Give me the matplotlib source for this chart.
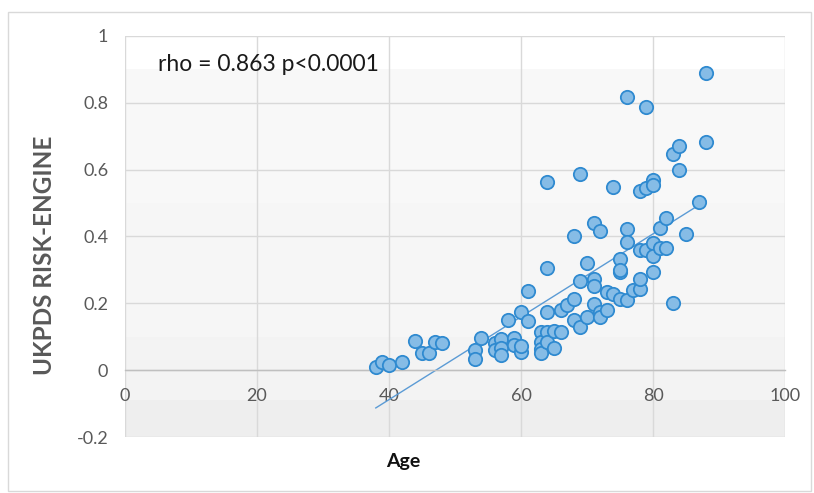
import matplotlib
matplotlib.use("Agg")
import matplotlib.pyplot as plt
from matplotlib.patches import Rectangle
import numpy as np

ages = [38, 39, 40, 42, 44, 45, 46, 47, 48, 53, 53, 54, 56, 56, 57, 57, 57, 58, 59, 59,
        60, 60, 60, 61, 61, 63, 63, 63, 63, 64, 64, 64, 64, 64, 65, 65, 66, 66, 67, 68,
        68, 68, 69, 69, 69, 70, 70, 71, 71, 71, 71, 72, 72, 72, 73, 73, 74, 74, 75, 75,
        75, 75, 76, 76, 76, 76, 77, 78, 78, 78, 78, 79, 79, 79, 80, 80, 80, 80, 80, 81,
        81, 82, 82, 83, 83, 84, 84, 85, 87, 88, 88]
risk = [0.010, 0.023, 0.015, 0.023, 0.087, 0.050, 0.050, 0.085, 0.080, 0.060, 0.032, 0.096,
        0.080, 0.060, 0.093, 0.065, 0.045, 0.151, 0.095, 0.075, 0.174, 0.055, 0.072, 0.237,
        0.147, 0.114, 0.085, 0.062, 0.050, 0.305, 0.174, 0.114, 0.085, 0.564, 0.116, 0.067,
        0.180, 0.114, 0.196, 0.214, 0.149, 0.401, 0.268, 0.129, 0.587, 0.159, 0.321, 0.274,
        0.251, 0.199, 0.441, 0.174, 0.159, 0.416, 0.181, 0.234, 0.229, 0.547, 0.293, 0.214,
        0.333, 0.300, 0.211, 0.818, 0.423, 0.383, 0.239, 0.244, 0.274, 0.537, 0.360, 0.544,
        0.360, 0.788, 0.293, 0.569, 0.555, 0.381, 0.341, 0.425, 0.366, 0.455, 0.366, 0.201,
        0.647, 0.672, 0.599, 0.408, 0.504, 0.684, 0.890]

trend_x = [38, 88]
trend_y = [-0.113, 0.507]

x_ticks = [0, 20, 40, 60, 80, 100]
y_ticks = [-0.2, 0, 0.2, 0.4, 0.6, 0.8, 1]
y_tick_labels = ["-0.2", "0", "0.2", "0.4", "0.6", "0.8", "1"]
annotation = "rho = 0.863 p<0.0001"

plt.rcParams['font.family'] = ['Lato', 'DejaVu Sans']

fig = plt.figure(figsize=(8.14, 4.93), dpi=100)
fig.patch.set_facecolor("white")
fig.patches.append(Rectangle((8 / 814, 1 - 491 / 493), 803 / 814, 479 / 493,
                             transform=fig.transFigure, fill=False,
                             edgecolor="#d9d9d9", linewidth=1.0))

ax = fig.add_axes([125 / 814, 1 - 437 / 493, 660 / 814, 401 / 493])
ax.set_xlim(0, 100)
ax.set_ylim(-0.2, 1.0)
ax.set_facecolor("white")

# background bands (Excel-style gradient)
bands = [(0.9, 1.0, "#ffffff"), (0.5, 0.9, "#f8f8f8"), (0.1, 0.5, "#f6f6f6"),
         (-0.09, 0.1, "#f3f3f3"), (-0.2, -0.09, "#eeeeee")]
for lo, hi, c in bands:
    ax.axhspan(lo, hi, color=c, zorder=0, linewidth=0)

ax.set_xticks(x_ticks)
ax.set_yticks(y_ticks)
ax.set_yticklabels(y_tick_labels)
ax.grid(True, color="#d9d9d9", linewidth=1.0, zorder=1)
ax.set_axisbelow(True)

for s in ["top", "right", "left"]:
    ax.spines[s].set_visible(False)
ax.spines["bottom"].set_position(("data", 0))
ax.spines["bottom"].set_color("#bfbfbf")
ax.spines["bottom"].set_linewidth(1.0)

ax.tick_params(axis="both", length=0, labelsize=13, labelcolor="#595959")
ax.tick_params(axis="y", pad=12)
ax.tick_params(axis="x", pad=13)

ax.plot(trend_x, trend_y, color="#5b9bd5", linewidth=1.0, zorder=2)
ax.scatter(ages, risk, s=92, facecolor="#86bce6", edgecolor="#2f8ad0",
           linewidth=1.3, zorder=3)

ax.text(5.0, 0.915, annotation, fontsize=16.5, color="#1a1a1a",
        ha="left", va="center", zorder=4)

fig.text(45 / 814, 1 - 255 / 493, "UKPDS RISK-ENGINE", rotation=90, fontsize=17.5,
         fontweight="bold", color="#595959", ha="center", va="center")
fig.text(403 / 814, 1 - 462 / 493, "Age", fontsize=14, fontweight="bold",
         color="#111111", ha="center", va="center")

fig.savefig("out.png", dpi=100)
